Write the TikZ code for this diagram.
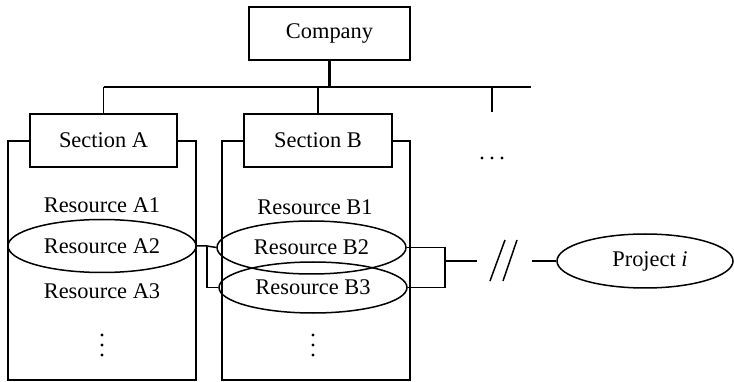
\documentclass[tikz,border=0pt]{standalone}
\usepackage{fontspec}
\setmainfont{Liberation Serif}
\usetikzlibrary{shapes.geometric}
\begin{document}
\begin{tikzpicture}[x=1pt,y=-1pt,line width=1.5pt,
  every node/.style={font=\fontsize{22.4}{26}\selectfont},
  box/.style={draw,rectangle,fill=white,inner sep=0pt},
  oval/.style={draw,ellipse,inner sep=0pt},
  lbl/.style={inner sep=0pt},
  dot/.style={fill=black,circle,inner sep=0pt,minimum size=3.2pt}]
\useasboundingbox (0,0) rectangle (734,382);
% containers
\draw (30,141) -- (8,141) -- (8,380) -- (196,380) -- (196,141) -- (177,141);
\draw (244,141) -- (222,141) -- (222,380) -- (410,380) -- (410,141) -- (392,141);
% top boxes
\node[box,minimum width=161pt,minimum height=53pt] (C) at (329.5,33.5) {Company};
\node[box,minimum width=147pt,minimum height=53pt] (SA) at (103.5,140.5) {Section A};
\node[box,minimum width=148pt,minimum height=53pt] (SB) at (318,140.5) {Section B};
% bus
\coordinate (bc) at (329.5,87);
\coordinate (bl) at (103.5,87);
\coordinate (bb) at (318,87);
\coordinate (bt) at (492,87);
\coordinate (btb) at (492,112);
\coordinate (br) at (531,87);
\draw[line width=2.4pt] (C.south) -- (bc);
\draw (bl) -- (br);
\draw (bl) -- (SA.north);
\draw (bb) -- (SB.north);
\draw (bt) -- (btb);
\node[dot] (h1) at (482,158) {};
\node[dot] (h2) at (492,158) {};
\node[dot] (h3) at (502,158) {};
% resources A
\node[lbl] (A1) at (102,205) {Resource A1};
\node[oval,minimum width=188pt,minimum height=53pt] (A2) at (102,246) {Resource A2};
\node[lbl] (A3) at (102,291) {Resource A3};
\node[dot] (va1) at (102,335) {};
\node[dot] (va2) at (102,345) {};
\node[dot] (va3) at (102,355) {};
% resources B
\node[lbl] (B1) at (315,207) {Resource B1};
\node[oval,minimum width=189pt,minimum height=53pt] (B2) at (311.5,247.5) {Resource B2};
\node[oval,minimum width=188pt,minimum height=51pt] (B3) at (313,287.5) {Resource B3};
\node[dot] (vb1) at (313,335) {};
\node[dot] (vb2) at (313,345) {};
\node[dot] (vb3) at (313,355) {};
% A2 to B2/B3
\coordinate (j1) at (207,246);
\draw (A2.east) -- (j1) -- (B2.west);
\draw (j1) |- (B3.west);
% B2/B3 to project
\coordinate (kt) at (445,247.5);
\coordinate (kb) at (445,287.5);
\coordinate (km) at (445,261);
\coordinate (s1) at (477,261);
\coordinate (s2) at (532,261);
\draw (B2.east) -- (kt) -- (kb) -- (B3.east);
\draw (km) -- (s1);
\draw (490,281) -- (505,240);
\draw (503,281) -- (517,240);
\node[oval,minimum width=176pt,minimum height=54pt] (P) at (645,261) {\hspace*{10pt}Project \textit{i}};
\draw (s2) -- (P.west);
\end{tikzpicture}
\end{document}
